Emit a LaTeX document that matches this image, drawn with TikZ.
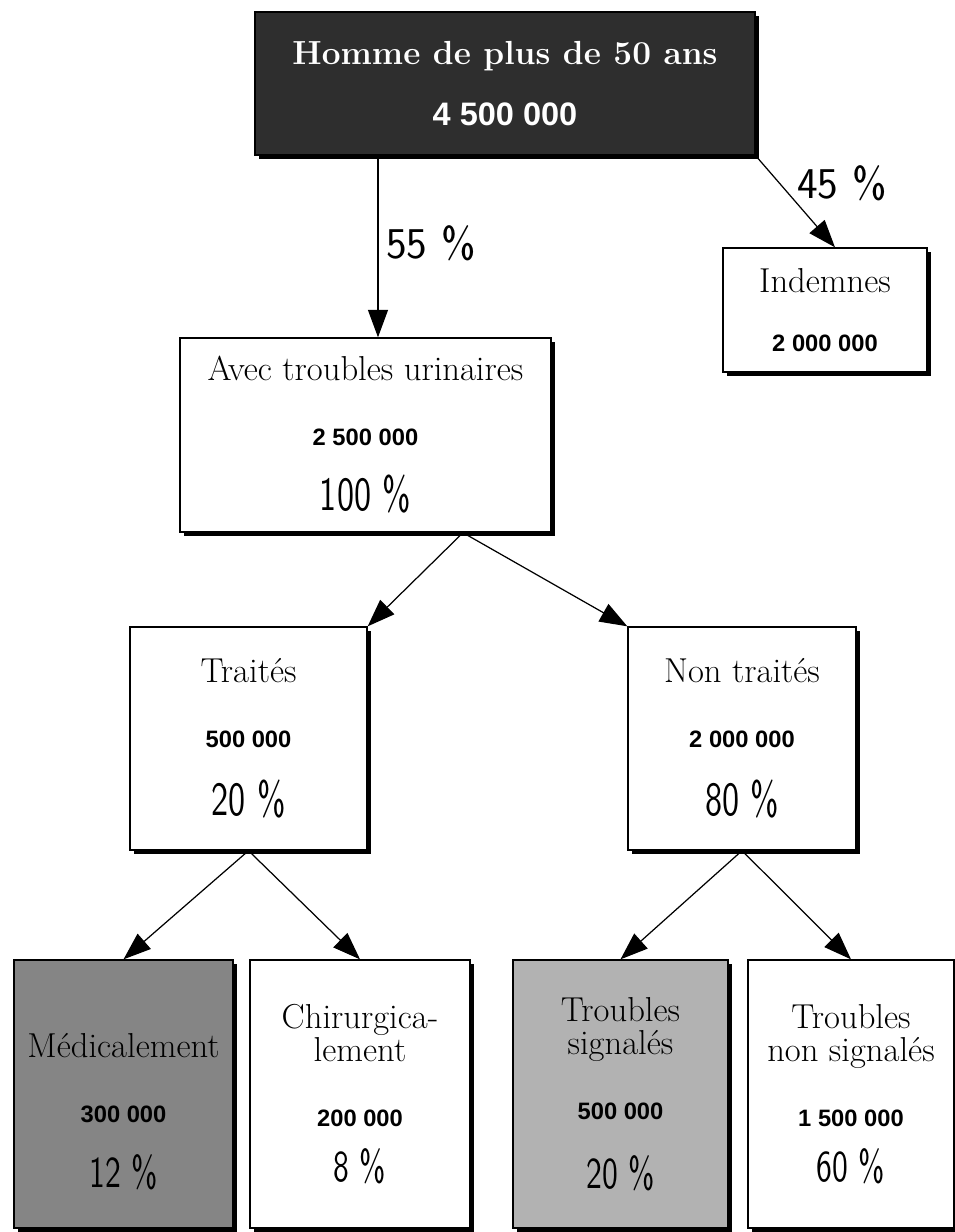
\documentclass[tikz,border=0pt]{standalone}
\usepackage{fontspec}
\newfontfamily\numfont{Liberation Sans}
\newfontfamily\pctfont[FakeStretch=0.72]{lmsans10-regular.otf}
\usetikzlibrary{positioning, shadows, arrows.meta}

\newcommand\popnum[2][13.5]{{\numfont\bfseries\fontsize{#1}{37}\selectfont #2}}
\newcommand\poppct[2][27]{{\pctfont\fontsize{#1}{37}\selectfont #2}}

\begin{document}
\begin{tikzpicture}[x=0.02cm, y=-0.02cm,
    pop-box/.style={draw, line width=0.8pt, fill=white, align=center, inner sep=0pt,
      font=\fontsize{19.7}{37}\selectfont,
      drop shadow={shadow xshift=2.5pt, shadow yshift=-2.5pt, fill=black, opacity=1}},
    dark-box/.style={pop-box, fill=black!82, text=white},
    mid-box/.style={pop-box, fill=black!48},
    light-box/.style={pop-box, fill=black!30},
    flow/.style={-{Triangle[length=0.55cm, width=0.4cm]}, line width=0.7pt},
    arr-lbl/.style={font=\sffamily\fontsize{25}{28}\selectfont}
  ]
  \useasboundingbox (0,0) rectangle (955,1232);

  \node (H) [dark-box, minimum width=10cm, minimum height=2.86cm] at (505,83.5)
    {{\bfseries\fontsize{19}{37}\selectfont Homme de plus de 50 ans}\\[-2pt]\popnum[18.5]{4 500 000}};
  \node (I) [pop-box, minimum width=4.08cm, minimum height=2.48cm] at (825,310)
    {Indemnes\\[-3pt]\popnum{2 000 000}};
  \node (A) [pop-box, minimum width=7.42cm, minimum height=3.88cm] at (365.5,435)
    {Avec troubles urinaires\\\popnum{2 500 000}\\\poppct{100 \%}};

  \node (T) [pop-box, minimum width=4.74cm, minimum height=4.46cm] at (248.5,738.5)
    {Traités\\\popnum{500 000}\\[2pt]\poppct{20 \%}};
  \node (N) [pop-box, minimum width=4.56cm, minimum height=4.46cm] at (742,738.5)
    {Non traités\\\popnum{2 000 000}\\[2pt]\poppct{80 \%}};

  \node (M) [mid-box, minimum width=4.38cm, minimum height=5.36cm] at (123.5,1094)
    {\mbox{}\\[-3pt]Médicalement\\\popnum{300 000}\\\poppct[25]{12 \%}};
  \node (Ch) [pop-box, minimum width=4.4cm, minimum height=5.36cm] at (360,1094)
    {Chirurgica-\\[-18pt]lement\\\popnum{200 000}\\[-6pt]\poppct[25]{8 \%}};
  \node (S) [light-box, minimum width=4.3cm, minimum height=5.36cm] at (620.5,1094)
    {Troubles\\[-18pt]signalés\\\popnum{500 000}\\[2pt]\poppct[25]{20 \%}};
  \node (NS) [pop-box, minimum width=4.12cm, minimum height=5.36cm] at (851,1094)
    {Troubles\\[-18pt]non signalés\\\popnum{1 500 000}\\[-6pt]\poppct[25]{60 \%}};

  \draw[flow] ([xshift=0.25cm]A.north |- H.south) -- ([xshift=0.25cm]A.north);
  \node (p55) [arr-lbl] at (431,243) {55 \%};
  \draw[flow] (H.south east) -- ([xshift=0.2cm]I.north);
  \node (p45) [arr-lbl] at (842,183) {45 \%};

  \draw[flow] ([xshift=1.95cm]A.south) -- (T.north east);
  \draw[flow] ([xshift=1.95cm]A.south) -- (N.north west);
  \draw[flow] (T.south) -- (M.north);
  \draw[flow] (T.south) -- (Ch.north);
  \draw[flow] (N.south) -- (S.north);
  \draw[flow] (N.south) -- (NS.north);

\end{tikzpicture}
\end{document}
